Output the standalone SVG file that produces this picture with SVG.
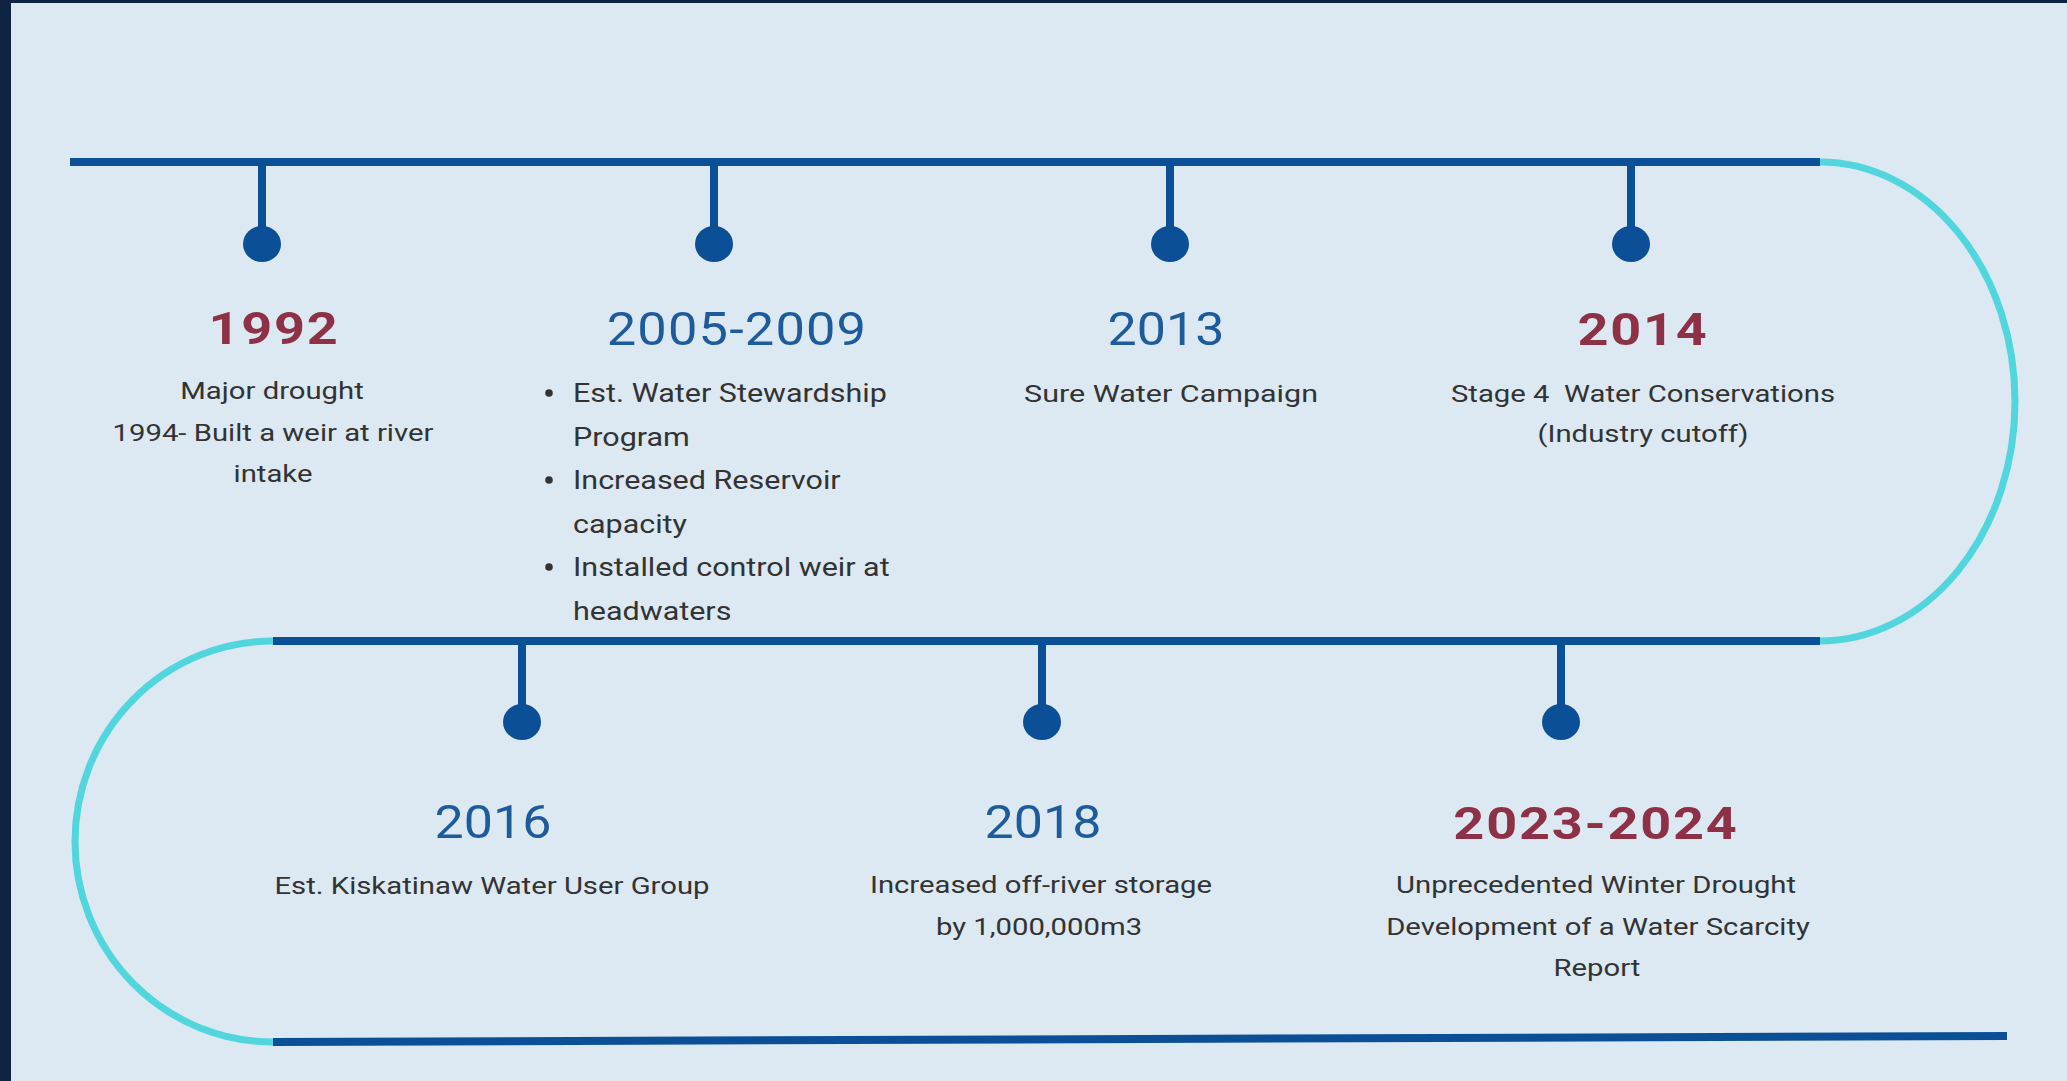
<svg xmlns="http://www.w3.org/2000/svg" width="2067" height="1081" viewBox="0 0 2067 1081">
  <style>
    .track { stroke: #0b4f96; stroke-width: 8; fill: none; }
    .bend { stroke: #52d6dd; stroke-width: 7; fill: none; }
    .stem { stroke: #0b4f96; stroke-width: 8; }
    .dot { fill: #0b4f96; }
    .yr { font-family: Roboto, "Liberation Sans", sans-serif; font-size: 46px; fill: #1d5b9c; text-anchor: middle; }
    .yr-b { font-family: Roboto, "Liberation Sans", sans-serif; font-size: 45px; font-weight: bold; fill: #8e3046; text-anchor: middle; letter-spacing: 1.5px; }
    .txt { font-family: Roboto, "Liberation Sans", sans-serif; font-size: 24px; fill: #333333; text-anchor: middle; }
    .li { font-family: Roboto, "Liberation Sans", sans-serif; font-size: 25px; fill: #333333; }
    .bullet { fill: #333333; }
  </style>

  <!-- page background and dark frame edges -->
  <rect x="0" y="0" width="2067" height="1081" fill="#dce8f2"/>
  <rect x="0" y="0" width="11" height="1081" fill="#0f2442"/>
  <rect x="0" y="0" width="2067" height="3" fill="#0f2442"/>

  <!-- winding timeline track -->
  <g id="connectors">
    <line class="track" x1="70" y1="162" x2="1820" y2="162"/>
    <path class="bend" d="M1820 162 A195 239.5 0 0 1 1820 641"/>
    <line class="track" x1="273" y1="641" x2="1820" y2="641"/>
    <path class="bend" d="M273 641 A198 200.5 0 0 0 273 1042"/>
    <line class="track" x1="273" y1="1042" x2="2007" y2="1036"/>
  </g>

  <!-- 1992 -->
  <g id="node-1992">
    <line class="stem" x1="262" y1="162" x2="262" y2="244"/>
    <ellipse class="dot" cx="262" cy="244" rx="19" ry="18"/>
    <text class="yr-b" transform="translate(274 344) scale(1.2 1)">1992</text>
    <text class="txt" transform="translate(272 399) scale(1.22 1)">Major drought</text>
    <text class="txt" transform="translate(273 441) scale(1.22 1)">1994- Built a weir at river</text>
    <text class="txt" transform="translate(273 482) scale(1.22 1)">intake</text>
  </g>

  <!-- 2005-2009 -->
  <g id="node-2005-2009">
    <line class="stem" x1="714" y1="162" x2="714" y2="244"/>
    <ellipse class="dot" cx="714" cy="244" rx="19" ry="18"/>
    <text class="yr" transform="translate(737 345) scale(1.14 1)" letter-spacing="1">2005-2009</text>
    <circle class="bullet" cx="549" cy="393" r="3.8"/>
    <circle class="bullet" cx="549" cy="480" r="3.8"/>
    <circle class="bullet" cx="549" cy="567" r="3.8"/>
    <text class="li" transform="translate(573 402) scale(1.22 1)">Est. Water Stewardship</text>
    <text class="li" transform="translate(573 445.5) scale(1.22 1)">Program</text>
    <text class="li" transform="translate(573 489) scale(1.22 1)">Increased Reservoir</text>
    <text class="li" transform="translate(573 532.5) scale(1.22 1)">capacity</text>
    <text class="li" transform="translate(573 576) scale(1.22 1)">Installed control weir at</text>
    <text class="li" transform="translate(573 619.5) scale(1.22 1)">headwaters</text>
  </g>

  <!-- 2013 -->
  <g id="node-2013">
    <line class="stem" x1="1170" y1="162" x2="1170" y2="244"/>
    <ellipse class="dot" cx="1170" cy="244" rx="19" ry="18"/>
    <text class="yr" transform="translate(1166 345) scale(1.13 1)">2013</text>
    <text class="txt" font-size="25" transform="translate(1171 402) scale(1.27 1)">Sure Water Campaign</text>
  </g>

  <!-- 2014 -->
  <g id="node-2014">
    <line class="stem" x1="1631" y1="162" x2="1631" y2="244"/>
    <ellipse class="dot" cx="1631" cy="244" rx="19" ry="18"/>
    <text class="yr-b" transform="translate(1643 345) scale(1.2 1)">2014</text>
    <text class="txt" transform="translate(1643 402) scale(1.22 1)">Stage 4&#160; Water Conservations</text>
    <text class="txt" transform="translate(1643 442) scale(1.22 1)">(Industry cutoff)</text>
  </g>

  <!-- 2016 -->
  <g id="node-2016">
    <line class="stem" x1="522" y1="641" x2="522" y2="722"/>
    <ellipse class="dot" cx="522" cy="722" rx="19" ry="18"/>
    <text class="yr" transform="translate(493 838) scale(1.13 1)">2016</text>
    <text class="txt" transform="translate(492 894) scale(1.22 1)">Est. Kiskatinaw Water User Group</text>
  </g>

  <!-- 2018 -->
  <g id="node-2018">
    <line class="stem" x1="1042" y1="641" x2="1042" y2="722"/>
    <ellipse class="dot" cx="1042" cy="722" rx="19" ry="18"/>
    <text class="yr" transform="translate(1043 838) scale(1.13 1)">2018</text>
    <text class="txt" transform="translate(1041 893) scale(1.22 1)">Increased off-river storage</text>
    <text class="txt" transform="translate(1039 935) scale(1.22 1)">by 1,000,000m3</text>
  </g>

  <!-- 2023-2024 -->
  <g id="node-2023-2024">
    <line class="stem" x1="1561" y1="641" x2="1561" y2="722"/>
    <ellipse class="dot" cx="1561" cy="722" rx="19" ry="18"/>
    <text class="yr-b" transform="translate(1596 839) scale(1.2 1)">2023-2024</text>
    <text class="txt" transform="translate(1596 893) scale(1.22 1)">Unprecedented Winter Drought</text>
    <text class="txt" transform="translate(1598 935) scale(1.22 1)">Development of a Water Scarcity</text>
    <text class="txt" transform="translate(1597 976) scale(1.22 1)">Report</text>
  </g>
</svg>
